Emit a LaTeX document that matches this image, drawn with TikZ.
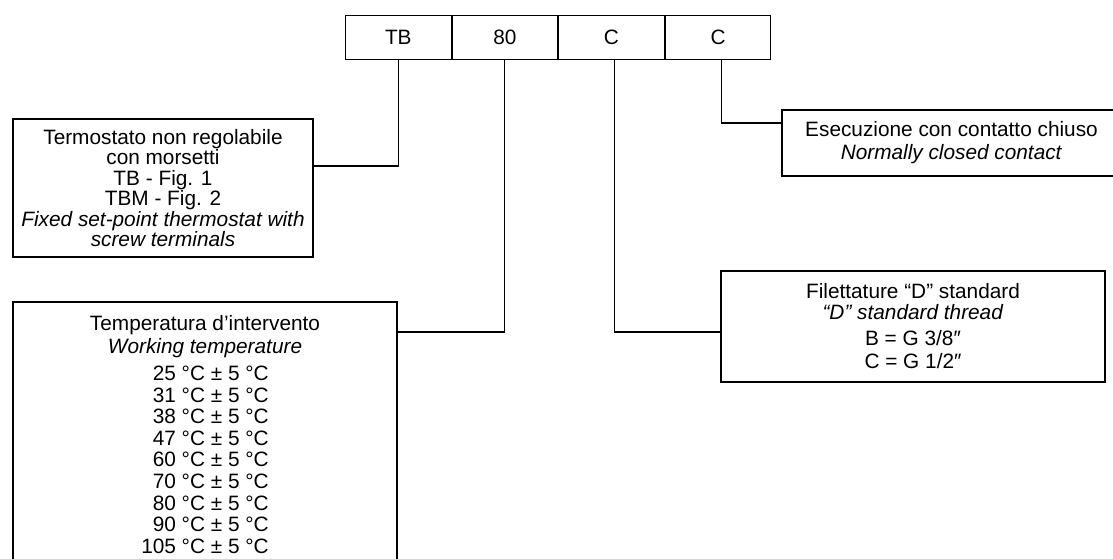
\documentclass[tikz,border=0pt]{standalone}
\usepackage{fontspec}
\setmainfont{Liberation Sans}
\begin{document}
\begin{tikzpicture}[x=1pt,y=-1pt,
  line width=1.1pt,
  txt/.style={font=\fontsize{20.8}{#1}\selectfont, align=center, inner sep=0pt},
  txt/.default=21.6,
  cell/.style={draw, txt, minimum width=105.5pt, minimum height=44pt, anchor=north west},
  frame/.style={draw, txt=#1},
  frame/.default=21.6,
  link/.style={line width=1.1pt}]
\path[use as bounding box, clip] (0,0) rectangle (1113,559);

% code cells
\node[cell] (tb)  at (345,15) {TB};
\node[cell] (v80) at (tb.north east) {80};
\node[cell] (c1)  at (v80.north east) {C};
\node[cell] (c2)  at (c1.north east) {C};

% description boxes
\node[frame=20.5, minimum width=300pt, minimum height=138pt] (term) at (163,188)
  {Termostato non regolabile\\ con morsetti\\ TB - Fig. 1\\ TBM - Fig. 2\\
   \textit{Fixed set-point thermostat with}\\ \textit{screw terminals}};

\node[frame, minimum width=384pt, minimum height=265pt] (temp) at (205,434.5)
  {Temperatura d’intervento\\[1.4pt] \textit{Working temperature}\\[5.4pt]
   \hphantom{1}25 °C ± 5 °C\\ \hphantom{1}31 °C ± 5 °C\\ \hphantom{1}38 °C ± 5 °C\\
   \hphantom{1}47 °C ± 5 °C\\ \hphantom{1}60 °C ± 5 °C\\ \hphantom{1}70 °C ± 5 °C\\
   \hphantom{1}80 °C ± 5 °C\\ \hphantom{1}90 °C ± 5 °C\\ 105 °C ± 5 °C};

\node[frame=21, minimum width=384pt, minimum height=111pt] (thread) at (913,326.5)
  {Filettature “D” standard\\ \textit{“D” standard thread}\\[5pt]
   B = G 3/8″\\[2pt] C = G 1/2″};

\node[frame=23, minimum width=339pt, minimum height=66pt] (contact) at (951.5,143)
  {Esecuzione con contatto chiuso\\ \textit{Normally closed contact}};

% connectors
\draw[link] (tb.south) |- ([yshift=22pt]term.east);
\draw[link] (v80.south) |- ([yshift=102.5pt]temp.east);
\draw[link] ([xshift=3.25pt]c1.south) |- ([yshift=-5.5pt]thread.west);
\draw[link] ([xshift=3.75pt]c2.south) |- ([yshift=20pt]contact.west);
\end{tikzpicture}
\end{document}
